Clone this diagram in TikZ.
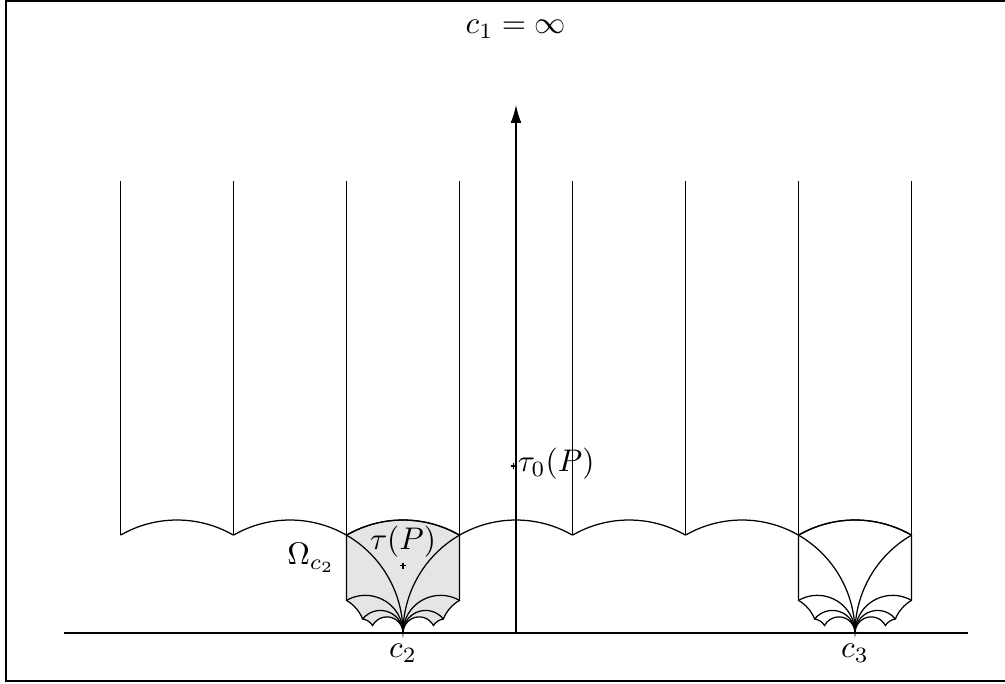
\documentclass[tikz,border=0pt]{standalone}
\usetikzlibrary{arrows.meta}
\tikzset{
  cuspfill/.style={fill=black!10},
  thinline/.style={line width=0.4pt},
  framestyle/.style={line width=0.7pt},
  ptmark/.style={line width=0.4pt},
  axisarrow/.style={-{Latex[length=5.7pt,width=3.4pt]}}
}
\newcommand\cuspbound{(-1.5,0.86603) arc[start angle=120,end angle=60,radius=1]
  -- (-0.5,0.28868) arc[start angle=120,end angle=158.21,radius=0.33333]
  arc[start angle=98.21,end angle=147.80,radius=0.125]
  arc[start angle=27.80,end angle=180,radius=0.142857]
  arc[start angle=0,end angle=152.20,radius=0.142857]
  arc[start angle=32.20,end angle=81.79,radius=0.125]
  arc[start angle=21.79,end angle=60,radius=0.33333] -- cycle}
\newcommand\cuspinner{%
  \draw[thinline] (-1.5,0.86603) arc[start angle=60,end angle=0,radius=1];
  \draw[thinline] (-1.5,0.28868) arc[start angle=120,end angle=0,radius=0.33333];
  \draw[thinline] (-1.35714,0.12372) arc[start angle=141.79,end angle=0,radius=0.2];
  \draw[thinline] (-0.5,0.86603) arc[start angle=120,end angle=180,radius=1];
  \draw[thinline] (-0.5,0.28868) arc[start angle=60,end angle=180,radius=0.33333];
  \draw[thinline] (-0.64286,0.12372) arc[start angle=38.21,end angle=180,radius=0.2];
}
\begin{document}
\begin{tikzpicture}[x=1.27cm,y=1.27cm]
\useasboundingbox (-4.5664,-0.4425) rectangle (4.3274,5.6018);
% frame (right edge lies outside the visible area)
\draw[framestyle] (-4.513,-0.4274) rectangle (4.45,5.5947);
% shaded cusp region at c2
\fill[cuspfill] \cuspbound;
\draw[thinline] \cuspbound;
\cuspinner
% cusp region at c3
\begin{scope}[shift={(4,0)}]
\draw[thinline] \cuspbound;
\cuspinner
\end{scope}
% strips
\foreach \x in {-3.5,-2.5,...,3.5}
  \draw[thinline] (\x,0.86603) -- (\x,4);
\foreach \n in {-3,...,3}
  \draw[thinline] (\n+0.5,0.86603) arc[start angle=60,end angle=120,radius=1];
% axes
\coordinate (xl) at (-4,0);
\coordinate (xr) at (4,0);
\coordinate (o) at (0,0);
\coordinate (ytop) at (0,4.673);
\draw[thinline] (xl) -- (xr);
\draw[thinline,axisarrow] (o) -- (ytop);
% cusps
\coordinate (c2) at (-1,0);
\coordinate (c3) at (3,0);
\node[below] (lc2) at (c2) {$c_2$};
\node[below] (lc3) at (c3) {$c_3$};
\node[anchor=base] (lc1) at (0,5.307) {$c_1=\infty$};
% points
\coordinate (tau0) at (-0.02,1.478);
\coordinate (tau) at (-1.0,0.596);
\draw[ptmark] (tau0) +(-1pt,0) -- +(1pt,0) +(0,-1pt) -- +(0,1pt);
\draw[ptmark] (tau) +(-1pt,0) -- +(1pt,0) +(0,-1pt) -- +(0,1pt);
\node[anchor=base west,inner sep=0pt] (ltau0) at (0.012,1.425) {$\tau_0(P)$};
\node[anchor=base] (ltau) at (-1.0,0.735) {$\tau(P)$};
\node[anchor=base] (lomega) at (-1.814,0.602) {$\Omega_{c_2}$};
\end{tikzpicture}
\end{document}
